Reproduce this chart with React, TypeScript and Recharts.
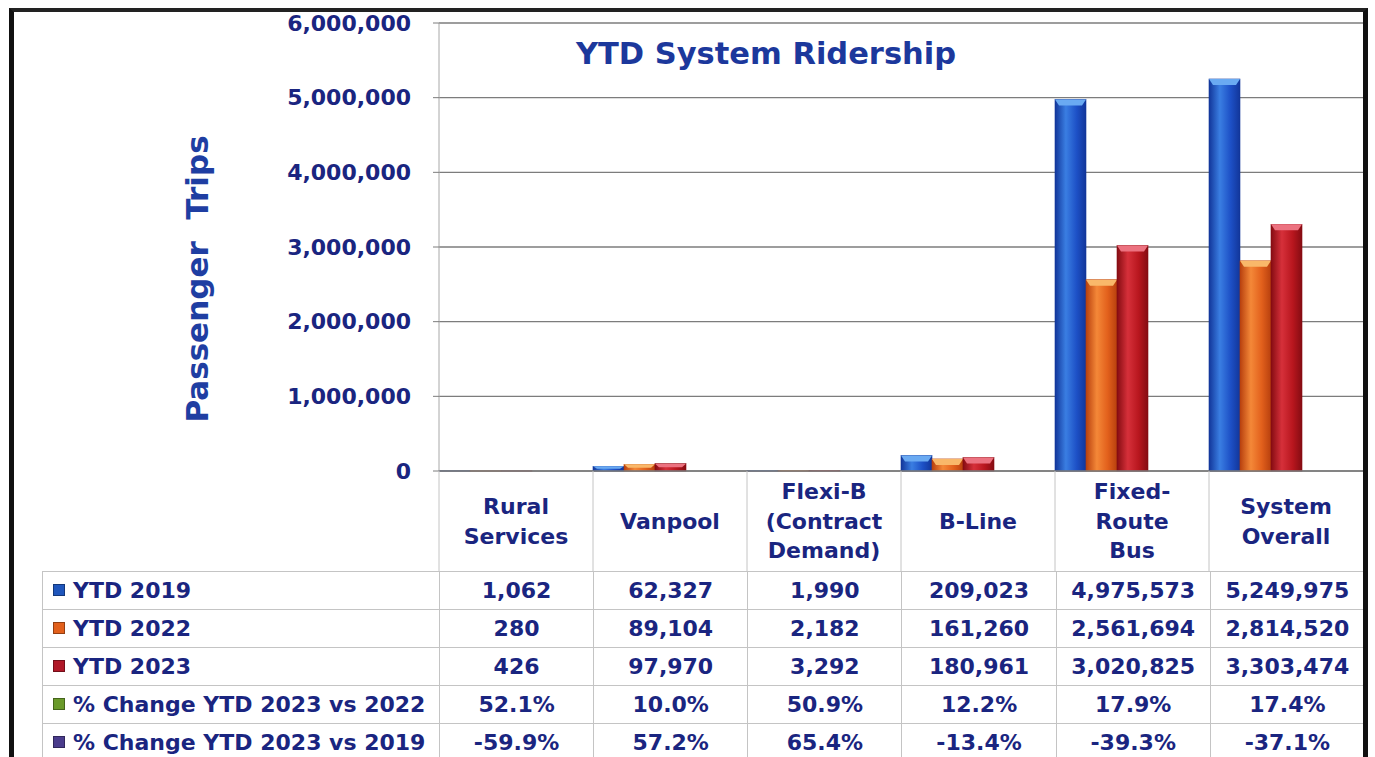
import { BarChart, Bar, XAxis, YAxis, CartesianGrid, Label } from "recharts";

const categories = ["Rural Services", "Vanpool", "Flexi-B (Contract Demand)", "B-Line", "Fixed-Route Bus", "System Overall"];
const categoryLines = [["Rural", "Services"], ["Vanpool"], ["Flexi-B", "(Contract", "Demand)"], ["B-Line"], ["Fixed-", "Route", "Bus"], ["System", "Overall"]];

const ytd2019 = [1062, 62327, 1990, 209023, 4975573, 5249975];
const ytd2022 = [280, 89104, 2182, 161260, 2561694, 2814520];
const ytd2023 = [426, 97970, 3292, 180961, 3020825, 3303474];
const changeVs2022 = [52.1, 10.0, 50.9, 12.2, 17.9, 17.4];
const changeVs2019 = [-59.9, 57.2, 65.4, -13.4, -39.3, -37.1];

const yTicks = [0, 1000000, 2000000, 3000000, 4000000, 5000000, 6000000];

const chartData = categories.map((name, i) => ({
  name,
  y2019: ytd2019[i],
  y2022: ytd2022[i],
  y2023: ytd2023[i],
}));

const FONT = "'DejaVu Sans', 'Liberation Sans', Arial, sans-serif";
const NAVY = "#1a2580";
const TITLE_BLUE = "#1c389c";

const palettes: Record<string, { edge: string; mid: string; light: string; cap: string }> = {
  blue: { edge: "#12369a", mid: "#1d50c6", light: "#3a7ee2", cap: "#6aaaf2" },
  orange: { edge: "#b8400e", mid: "#e2601c", light: "#f48838", cap: "#f9b86a" },
  red: { edge: "#850c12", mid: "#b8161e", light: "#d6303a", cap: "#ec7280" },
};

const makeShape = (key: string) => (props: any) => {
  const { x, y, width, height } = props;
  if (!height || height <= 0) return <g />;
  const p = palettes[key];
  const cap = Math.min(6, height / 2);
  return (
    <g>
      <rect x={x} y={y} width={width} height={height} fill={`url(#grad-${key})`} stroke={p.edge} strokeWidth={0.6} />
      <polygon
        points={`${x},${y} ${x + width},${y} ${x + width - 4},${y + cap} ${x + 4},${y + cap}`}
        fill={p.cap}
      />
    </g>
  );
};

const CategoryTick = (props: any) => {
  const { x, y, payload } = props;
  const idx = categories.indexOf(payload.value);
  const lines = categoryLines[idx] || [payload.value];
  const half = payload.offset || 0;
  const spacing = 29.5;
  const mid = y + 50;
  return (
    <g>
      <line x1={x - half} y1={y} x2={x - half} y2={y + 100} stroke="#c4c4c4" strokeWidth={1} />
      {lines.map((t: string, i: number) => (
        <text
          key={t}
          x={x}
          y={mid + (i - (lines.length - 1) / 2) * spacing}
          dy="0.36em"
          textAnchor="middle"
          fill={NAVY}
          fontSize={22}
          fontWeight="bold"
          fontFamily={FONT}
        >
          {t}
        </text>
      ))}
    </g>
  );
};

const fmtNum = (v: number) => v.toLocaleString("en-US");
const fmtPct = (v: number) => `${v.toFixed(1)}%`;

const tableRows = [
  { label: "YTD 2019", key: "#1f56bc", values: ytd2019.map(fmtNum) },
  { label: "YTD 2022", key: "#e2601c", values: ytd2022.map(fmtNum) },
  { label: "YTD 2023", key: "#b01828", values: ytd2023.map(fmtNum) },
  { label: "% Change YTD 2023 vs 2022", key: "#6a9a2a", values: changeVs2022.map(fmtPct) },
  { label: "% Change YTD 2023 vs 2019", key: "#4a3c8c", values: changeVs2019.map(fmtPct) },
];

const cellBorder = "1px solid #c4c4c4";

export default function App() {
  return (
    <div
      style={{
        position: "absolute",
        left: 0,
        top: 0,
        width: 1375,
        height: 757,
        background: "#fff",
        overflow: "hidden",
        fontFamily: FONT,
      }}
    >
      <BarChart
        width={1375}
        height={571}
        data={chartData}
        margin={{ top: 23, right: 12, bottom: 0, left: 0 }}
        barCategoryGap={0}
        barGap={0}
        style={{ position: "absolute", left: 0, top: 0 }}
      >
        <defs>
          {Object.keys(palettes).map((k) => (
            <linearGradient key={k} id={`grad-${k}`} x1="0" y1="0" x2="1" y2="0">
              <stop offset="0%" stopColor={palettes[k].edge} />
              <stop offset="35%" stopColor={palettes[k].light} />
              <stop offset="70%" stopColor={palettes[k].mid} />
              <stop offset="100%" stopColor={palettes[k].edge} />
            </linearGradient>
          ))}
        </defs>
        <CartesianGrid vertical={false} stroke="#7c7c7c" strokeWidth={1.4} />
        <XAxis
          dataKey="name"
          height={100}
          tick={<CategoryTick />}
          tickLine={false}
          tickSize={0}
          tickMargin={0}
          axisLine={{ stroke: "#7c7c7c", strokeWidth: 1.4 }}
          interval={0}
        />
        <YAxis
          width={439}
          domain={[0, 6000000]}
          ticks={yTicks}
          tickFormatter={fmtNum}
          tickSize={6}
          tickMargin={22}
          tickLine={{ stroke: "#7c7c7c" }}
          axisLine={{ stroke: "#a8a8a8" }}
          tick={{ fill: NAVY, fontSize: 22, fontWeight: "bold", fontFamily: FONT }}
        >
          <Label
            content={({ viewBox }: any) => {
              const cx = viewBox.x + 197;
              const cy = viewBox.y + viewBox.height / 2 + 32;
              return (
                <text
                  x={cx}
                  y={cy}
                  transform={`rotate(-90 ${cx} ${cy})`}
                  textAnchor="middle"
                  dominantBaseline="central"
                  fill="#1f3ea2"
                  fontSize={31}
                  fontWeight="bold"
                  fontFamily={FONT}
                  style={{ whiteSpace: "pre" }}
                >
                  {"Passenger  Trips"}
                </text>
              );
            }}
          />
        </YAxis>
        <Bar dataKey="y2019" name="YTD 2019" shape={makeShape("blue")} isAnimationActive={false} />
        <Bar dataKey="y2022" name="YTD 2022" shape={makeShape("orange")} isAnimationActive={false} />
        <Bar dataKey="y2023" name="YTD 2023" shape={makeShape("red")} isAnimationActive={false} />
        {/* empty slots so the group sits at the left of each category, like the original */}
        <Bar dataKey="spacerA" legendType="none" isAnimationActive={false} />
        <Bar dataKey="spacerB" legendType="none" isAnimationActive={false} />
      </BarChart>

      <div
        style={{
          position: "absolute",
          left: 566,
          width: 400,
          top: 36,
          textAlign: "center",
          color: TITLE_BLUE,
          fontSize: 30.5,
          fontWeight: "bold",
          lineHeight: "36px",
          whiteSpace: "nowrap",
        }}
      >
        YTD System Ridership
      </div>

      <table
        style={{
          position: "absolute",
          left: 42,
          top: 571,
          borderCollapse: "collapse",
          tableLayout: "fixed",
          width: 1322,
          color: NAVY,
          fontSize: 22,
          fontWeight: "bold",
          lineHeight: "24px",
        }}
      >
        <colgroup>
          <col style={{ width: 397 }} />
          {categories.map((c) => (
            <col key={c} style={{ width: 154.17 }} />
          ))}
        </colgroup>
        <tbody>
          {tableRows.map((r) => (
            <tr key={r.label} style={{ height: 38 }}>
              <td style={{ border: cellBorder, padding: "0 0 0 10px", whiteSpace: "nowrap" }}>
                <span
                  style={{
                    display: "inline-block",
                    width: 10,
                    height: 10,
                    background: r.key,
                    border: "1px solid rgba(0,0,0,0.35)",
                    marginRight: 8,
                    verticalAlign: "middle",
                    position: "relative",
                    top: -2,
                  }}
                />
                {r.label}
              </td>
              {r.values.map((v, i) => (
                <td key={i} style={{ border: cellBorder, textAlign: "center", padding: 0 }}>
                  {v}
                </td>
              ))}
            </tr>
          ))}
        </tbody>
      </table>

      <div
        style={{
          position: "absolute",
          left: 9,
          top: 8,
          width: 1359,
          height: 800,
          boxSizing: "border-box",
          borderLeft: "5px solid #111",
          borderRight: "5px solid #111",
          borderTop: "4px solid #222",
          pointerEvents: "none",
        }}
      />
    </div>
  );
}
